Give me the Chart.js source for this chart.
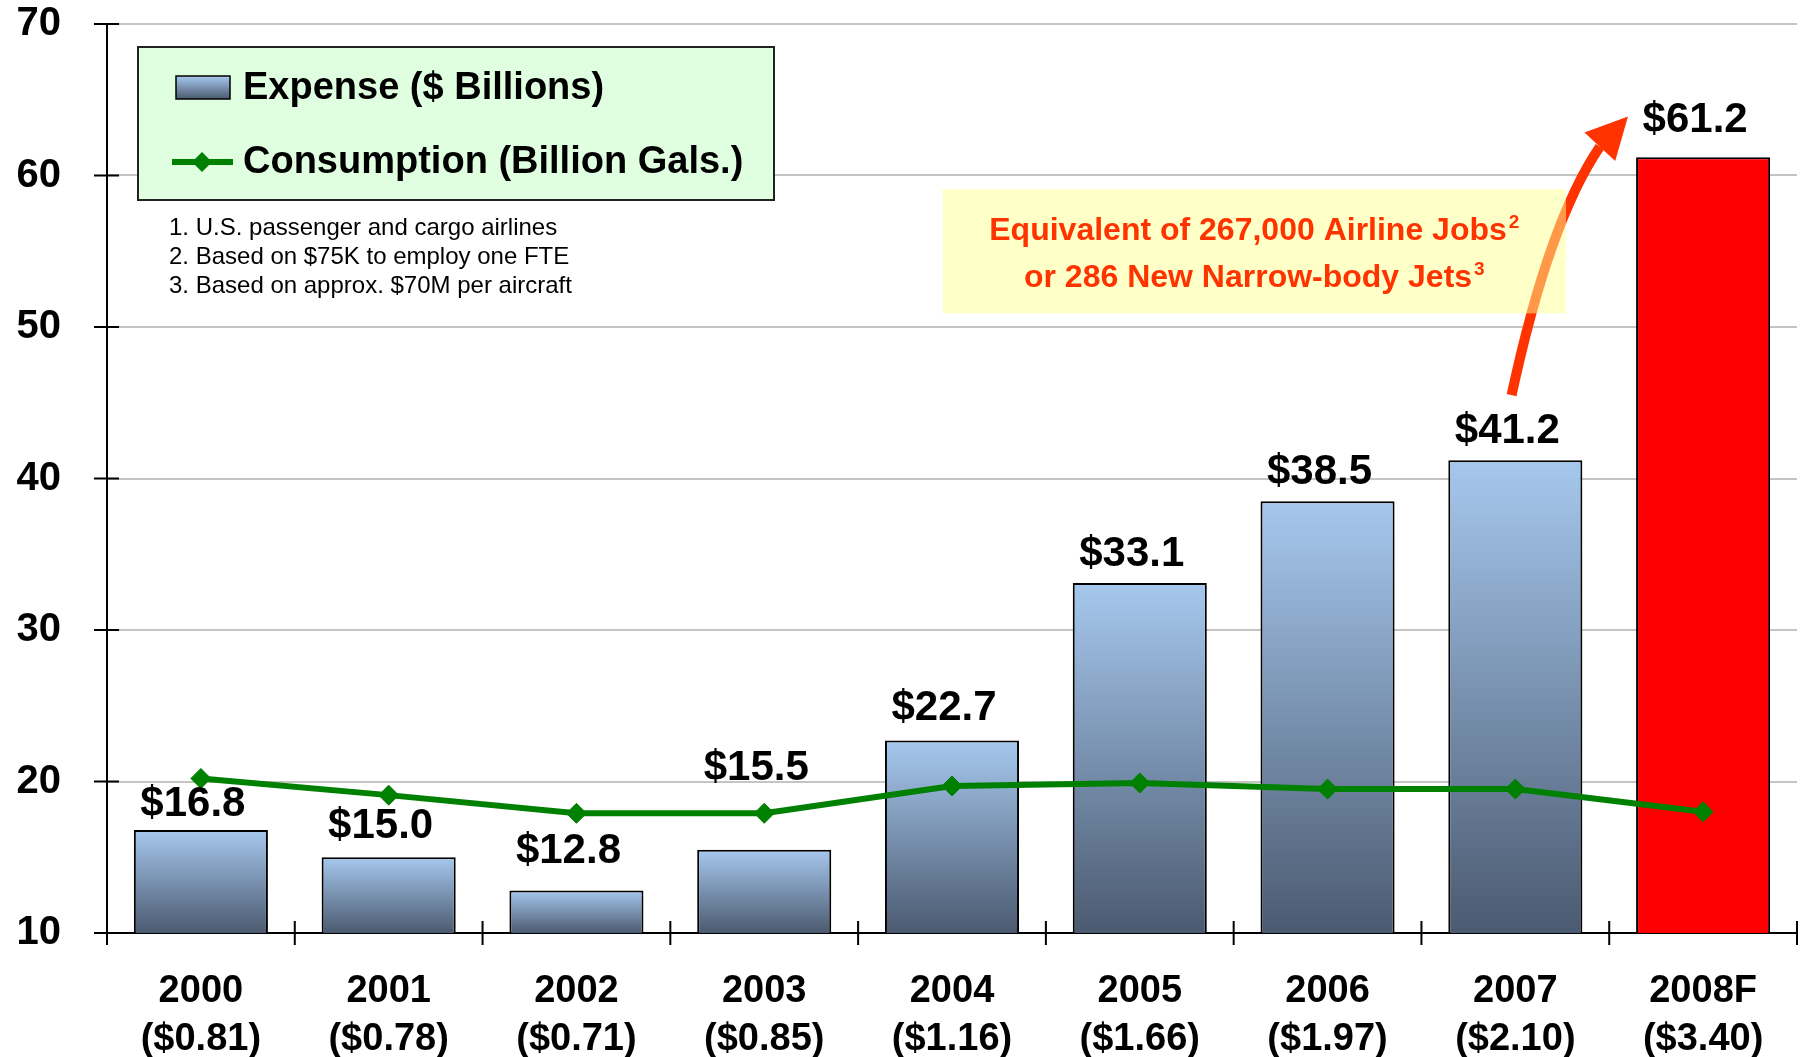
<!DOCTYPE html>
<html>
<head>
<meta charset="utf-8">
<script src="https://cdn.jsdelivr.net/npm/chart.js@4.4.1/dist/chart.umd.min.js"></script>
<style>
html,body{margin:0;padding:0;background:#fff;overflow:hidden;}
canvas{display:block;}
</style>
</head>
<body>
<canvas id="fuelChart" width="1800" height="1057"></canvas>
<script>
// fuel expense by year, with cost per gallon under each year
const years = ["2000","2001","2002","2003","2004","2005","2006","2007","2008F"];
const perGallon = ["$0.81","$0.78","$0.71","$0.85","$1.16","$1.66","$1.97","$2.10","$3.40"];
const expense = [16.8,15.0,12.8,15.5,22.7,33.1,38.5,41.2,61.2];
const consumption = [20.2,19.1,17.9,17.9,19.7,19.9,19.5,19.5,18.0];
const yTicks = [10,20,30,40,50,60,70];
const legendLabels = ["Expense ($ Billions)","Consumption (Billion Gals.)"];
const footnotes = [
"1. U.S. passenger and cargo airlines",
"2. Based on $75K to employ one FTE",
"3. Based on approx. $70M per aircraft"
];
const callout = [["Equivalent of 267,000 Airline Jobs","2"],["or 286 New Narrow-body Jets","3"]];

// gap in px between bar top and its value label (2003 sits above the line)
const labelGap = [14,19,28,70,21,17,17,17,25];

const FONT = "'Liberation Sans', Arial, sans-serif";
const forecastIdx = years.length - 1;
Chart.defaults.font.family = FONT;
Chart.defaults.color = "#000";

function blueGrad(ctx, top, bottom){
  const g = ctx.createLinearGradient(0, top, 0, bottom);
  g.addColorStop(0, "#a6c8ee");
  g.addColorStop(1, "#4b5a70");
  return g;
}

function barFill(c){
  if (c.dataIndex === forecastIdx) return "#ff0000";
  const chart = c.chart;
  if (!chart.chartArea) return "#7890ac";
  const y = chart.scales.y;
  return blueGrad(chart.ctx, y.getPixelForValue(expense[c.dataIndex]), y.getPixelForValue(y.min));
}

function diamond(ctx, x, y, r){
  ctx.beginPath();
  ctx.moveTo(x, y - r); ctx.lineTo(x + r, y); ctx.lineTo(x, y + r); ctx.lineTo(x - r, y);
  ctx.closePath(); ctx.fill();
}

const extras = {
  id: "extras",
  beforeDraw(chart){
    const ctx = chart.ctx;
    ctx.save(); ctx.fillStyle = "#fff"; ctx.fillRect(0, 0, chart.width, chart.height); ctx.restore();
  },
  afterDatasetsDraw(chart){
    const ctx = chart.ctx, xs = chart.scales.x, ys = chart.scales.y, area = chart.chartArea;
    const px = i => xs.getPixelForValue(i), py = v => ys.getPixelForValue(v);
    ctx.save();

    // arrow from 2007 up to the 2008 forecast
    const s = [px(6.98), py(45.5)], cp = [px(7.18), py(57.0)], e = [px(7.45), py(61.9)], tip = [px(7.6), py(63.9)];
    ctx.strokeStyle = "#ff3300"; ctx.fillStyle = "#ff3300"; ctx.lineWidth = 10;
    ctx.beginPath(); ctx.moveTo(s[0], s[1]); ctx.quadraticCurveTo(cp[0], cp[1], e[0], e[1]); ctx.stroke();
    const dx = tip[0] - e[0], dy = tip[1] - e[1], len = Math.hypot(dx, dy);
    const nx = -dy / len, ny = dx / len, hw = 21;
    ctx.beginPath();
    ctx.moveTo(tip[0], tip[1]);
    ctx.lineTo(e[0] + nx * hw, e[1] + ny * hw);
    ctx.lineTo(e[0] - nx * hw, e[1] - ny * hw);
    ctx.closePath(); ctx.fill();

    // callout box
    const bl = px(3.95), br = px(7.27), bt = py(59.1), bb = py(50.9);
    ctx.fillStyle = "rgba(255,255,145,0.5)";
    ctx.fillRect(bl, bt, br - bl, bb - bt);
    ctx.fillStyle = "#ff3300";
    ctx.textBaseline = "alphabetic"; ctx.textAlign = "left";
    const cx = (bl + br) / 2;
    callout.forEach((ln, k) => {
      ctx.font = "bold 32px " + FONT;
      const w1 = ctx.measureText(ln[0]).width;
      ctx.font = "bold 19px " + FONT;
      const w2 = ctx.measureText(ln[1]).width;
      const x0 = cx - (w1 + w2 + 2) / 2, base = bt + 51 + k * 47;
      ctx.font = "bold 32px " + FONT;
      ctx.fillText(ln[0], x0, base);
      ctx.font = "bold 19px " + FONT;
      ctx.fillText(ln[1], x0 + w1 + 2, base - 12);
    });

    // legend
    const lx = area.left + 31, lt = area.top + 23;
    ctx.fillStyle = "#e0ffe0"; ctx.fillRect(lx, lt, 636, 153);
    ctx.strokeStyle = "#222"; ctx.lineWidth = 2; ctx.strokeRect(lx, lt, 636, 153);
    ctx.fillStyle = blueGrad(ctx, lt + 29, lt + 52); ctx.fillRect(lx + 38, lt + 29, 54, 23);
    ctx.strokeStyle = "#000"; ctx.lineWidth = 1.5; ctx.strokeRect(lx + 38, lt + 29, 54, 23);
    ctx.strokeStyle = "#008000"; ctx.fillStyle = "#008000"; ctx.lineWidth = 6;
    ctx.beginPath(); ctx.moveTo(lx + 34, lt + 115); ctx.lineTo(lx + 95, lt + 115); ctx.stroke();
    diamond(ctx, lx + 64, lt + 115, 10);
    ctx.fillStyle = "#000"; ctx.font = "bold 38px " + FONT; ctx.textBaseline = "middle";
    ctx.fillText(legendLabels[0], lx + 105, lt + 42);
    ctx.fillText(legendLabels[1], lx + 105, lt + 116);

    // footnotes
    ctx.font = "24px " + FONT;
    footnotes.forEach((f, k) => ctx.fillText(f, lx + 31, lt + 181 + k * 29));

    // value labels over bars
    ctx.font = "bold 42px " + FONT; ctx.textAlign = "center"; ctx.textBaseline = "alphabetic";
    chart.getDatasetMeta(0).data.forEach((bar, i) => {
      ctx.fillText("$" + expense[i].toFixed(1), bar.x - 8, bar.y - labelGap[i]);
    });

    // tick marks crossing the axes
    ctx.strokeStyle = "#000"; ctx.lineWidth = 2;
    ctx.beginPath();
    yTicks.forEach(v => { ctx.moveTo(area.left - 13, py(v)); ctx.lineTo(area.left + 12, py(v)); });
    const half = (px(1) - px(0)) / 2;
    for (let i = 0; i <= years.length; i++) {
      const x = px(i) - half;
      ctx.moveTo(x, area.bottom - 12); ctx.lineTo(x, area.bottom + 12);
    }
    ctx.stroke();
    ctx.restore();
  }
};

new Chart(document.getElementById("fuelChart"), {
  type: "bar",
  data: {
    labels: years.map((y, i) => [y, "(" + perGallon[i] + ")"]),
    datasets: [{
      type: "bar",
      label: legendLabels[0],
      data: expense,
      order: 2,
      backgroundColor: barFill,
      borderColor: "#000",
      borderWidth: 2,
      barPercentage: 0.714,
      categoryPercentage: 1
    }, {
      type: "line",
      label: legendLabels[1],
      data: consumption,
      order: 1,
      borderColor: "#008000",
      borderWidth: 6,
      tension: 0,
      pointStyle: "rectRot",
      pointRadius: 10,
      pointBackgroundColor: "#008000",
      pointBorderColor: "#008000",
      pointBorderWidth: 1
    }]
  },
  options: {
    responsive: false,
    animation: false,
    layout: { autoPadding: false, padding: { top: 24, right: 3, left: 0, bottom: 0 } },
    plugins: { legend: { display: false }, tooltip: { enabled: false } },
    scales: {
      x: {
        afterFit: s => { s.height = 124; s.paddingLeft = 0; s.paddingRight = 0; },
        grid: { drawOnChartArea: false, drawTicks: false },
        border: { color: "#000", width: 2 },
        ticks: { font: { size: 38, weight: "bold", lineHeight: 1.27 }, color: "#000", padding: 34, maxRotation: 0, autoSkip: false }
      },
      y: {
        min: 10, max: 70,
        afterFit: s => { s.width = 107; s.paddingTop = 0; s.paddingBottom = 0; },
        afterBuildTicks: s => { s.ticks = yTicks.map(v => ({ value: v })); },
        grid: { color: "#c4c4c4", lineWidth: 2, drawTicks: false },
        border: { color: "#000", width: 2 },
        ticks: { font: { size: 40, weight: "bold" }, color: "#000", padding: 46 }
      }
    }
  },
  plugins: [extras]
});
</script>
</body>
</html>
